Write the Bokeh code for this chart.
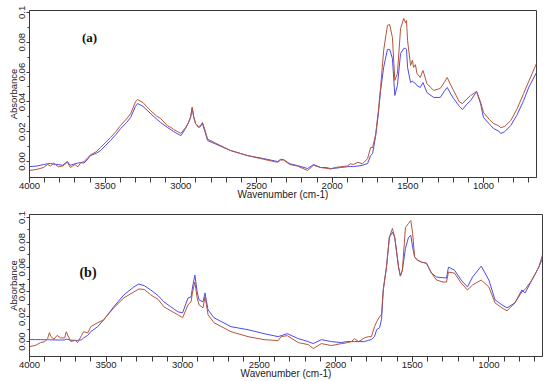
from bokeh.plotting import figure
from bokeh.layouts import column
from bokeh.models import Range1d, SingleIntervalTicker, FixedTicker, Label
from bokeh.embed import file_html
from bokeh.resources import INLINE

# ---------------- data (a) ----------------
wn_a = [4000, 3950, 3907, 3880, 3861, 3840, 3810, 3780, 3750, 3730, 3700, 3680, 3663, 3640, 3620,
        3597, 3560, 3531, 3500, 3465, 3430, 3398, 3360, 3332, 3300, 3286, 3250, 3200, 3160, 3134,
        3088, 3060, 3048, 3020, 3000, 2969, 2949, 2935, 2925, 2915, 2903, 2883, 2870, 2857, 2845,
        2823, 2780, 2672, 2560, 2453, 2361, 2341, 2321, 2280, 2229, 2163, 2123, 2077, 2040, 2011,
        1980, 1945, 1900, 1880, 1859, 1830, 1800, 1766, 1746, 1733, 1713, 1695, 1680, 1660, 1635,
        1620, 1602, 1586, 1569, 1548, 1527, 1515, 1509, 1502, 1482, 1470, 1462, 1450, 1440, 1418,
        1400, 1374, 1330, 1286, 1260, 1240, 1220, 1198, 1160, 1139, 1110, 1085, 1046, 1020, 1000,
        960, 933, 900, 887, 860, 820, 780, 735, 700, 650]
red_a = [-0.0060, -0.0052, -0.0040, -0.0020, -0.0030, -0.0010, -0.0035, -0.0030, -0.0005, -0.0040,
         -0.0020, -0.0035, -0.0010, 0.0000, 0.0020, 0.0045, 0.0065, 0.0094, 0.0125, 0.0161,
         0.0200, 0.0242, 0.0285, 0.0320, 0.0400, 0.0416, 0.0395, 0.0342, 0.0305, 0.0289,
         0.0240, 0.0225, 0.0215, 0.0200, 0.0188, 0.0228, 0.0262, 0.0300, 0.0362, 0.0300,
         0.0255, 0.0235, 0.0240, 0.0262, 0.0225, 0.0150, 0.0128, 0.0074, 0.0040, 0.0015,
         -0.0005, 0.0010, 0.0010, -0.0020, -0.0030, -0.0060, -0.0025, -0.0040, -0.0045, -0.0050,
         -0.0040, -0.0035, -0.0030, -0.0015, -0.0020, -0.0005, -0.0015, 0.0020, 0.0094, 0.0094,
         0.0180, 0.0340, 0.0497, 0.0745, 0.0913, 0.0919, 0.0832, 0.0544, 0.0591, 0.0893,
         0.0960, 0.0930, 0.0946, 0.0812, 0.0644, 0.0680, 0.0631, 0.0650, 0.0591, 0.0564,
         0.0611, 0.0523, 0.0477, 0.0490, 0.0530, 0.0564, 0.0520, 0.0477, 0.0400, 0.0389,
         0.0420, 0.0443, 0.0470, 0.0400, 0.0329, 0.0280, 0.0255, 0.0240, 0.0228, 0.0235,
         0.0275, 0.0350, 0.0456, 0.0540, 0.0658]
blue_a = [-0.0034, -0.0030, -0.0020, -0.0015, -0.0013, -0.0018, -0.0020, -0.0025, 0.0000, -0.0025,
          -0.0015, -0.0010, -0.0007, -0.0010, 0.0010, 0.0040, 0.0055, 0.0074, 0.0105, 0.0141,
          0.0180, 0.0221, 0.0260, 0.0295, 0.0370, 0.0389, 0.0370, 0.0322, 0.0285, 0.0262,
          0.0228, 0.0210, 0.0201, 0.0185, 0.0174, 0.0221, 0.0262, 0.0300, 0.0362, 0.0300,
          0.0255, 0.0228, 0.0235, 0.0255, 0.0215, 0.0141, 0.0122, 0.0074, 0.0040, 0.0020,
          0.0000, 0.0015, 0.0013, -0.0015, -0.0027, -0.0047, -0.0020, -0.0040, -0.0040, -0.0047,
          -0.0045, -0.0040, -0.0035, -0.0033, -0.0034, -0.0030, -0.0025, -0.0013, 0.0040, 0.0054,
          0.0170, 0.0320, 0.0477, 0.0631, 0.0752, 0.0752, 0.0691, 0.0443, 0.0510, 0.0725,
          0.0758, 0.0760, 0.0752, 0.0631, 0.0530, 0.0540, 0.0530, 0.0525, 0.0510, 0.0497,
          0.0530, 0.0463, 0.0430, 0.0430, 0.0470, 0.0497, 0.0460, 0.0423, 0.0370, 0.0349,
          0.0385, 0.0409, 0.0470, 0.0390, 0.0295, 0.0250, 0.0221, 0.0205, 0.0188, 0.0200,
          0.0242, 0.0310, 0.0409, 0.0500, 0.0597]

# ---------------- data (b) ----------------
wn_b = [4000, 3960, 3928, 3900, 3882, 3870, 3860, 3840, 3820, 3797, 3770, 3760, 3731, 3700, 3686,
        3660, 3646, 3620, 3600, 3555, 3515, 3450, 3384, 3319, 3286, 3250, 3208, 3160, 3122, 3077,
        3031, 3000, 2965, 2945, 2935, 2920, 2905, 2893, 2867, 2854, 2845, 2834, 2795, 2684, 2573,
        2468, 2376, 2357, 2317, 2245, 2180, 2147, 2094, 2029, 1963, 1930, 1898, 1878, 1850, 1813,
        1787, 1767, 1747, 1733, 1714, 1701, 1690, 1669, 1650, 1630, 1615, 1590, 1578, 1565, 1545,
        1525, 1510, 1498, 1485, 1465, 1440, 1408, 1375, 1342, 1300, 1277, 1264, 1225, 1181, 1140,
        1107, 1050, 1000, 960, 915, 882, 830, 785, 764, 719, 674, 650]
red_b = [-0.0040, -0.0030, -0.0008, 0.0000, 0.0024, 0.0072, 0.0040, 0.0020, 0.0050, 0.0030,
         0.0030, 0.0080, 0.0000, 0.0010, -0.0008, 0.0050, 0.0080, 0.0070, 0.0120, 0.0152,
         0.0176, 0.0272, 0.0352, 0.0400, 0.0424, 0.0420, 0.0376, 0.0340, 0.0280, 0.0248,
         0.0216, 0.0192, 0.0296, 0.0320, 0.0400, 0.0480, 0.0350, 0.0296, 0.0272, 0.0360,
         0.0300, 0.0216, 0.0152, 0.0080, 0.0040, 0.0016, 0.0008, 0.0040, 0.0048, -0.0008,
         -0.0024, -0.0056, -0.0016, -0.0032, -0.0016, -0.0010, 0.0000, 0.0024, 0.0000, 0.0030,
         0.0040, 0.0040, 0.0120, 0.0160, 0.0200, 0.0220, 0.0416, 0.0600, 0.0840, 0.0912,
         0.0840, 0.0600, 0.0528, 0.0576, 0.0920, 0.0952, 0.0976, 0.0872, 0.0680, 0.0656,
         0.0640, 0.0632, 0.0552, 0.0496, 0.0480, 0.0480, 0.0560, 0.0552, 0.0472, 0.0416,
         0.0456, 0.0496, 0.0440, 0.0312, 0.0272, 0.0248, 0.0312, 0.0400, 0.0420, 0.0496,
         0.0600, 0.0700]
blue_b = [0.0016, 0.0016, 0.0016, 0.0015, 0.0015, 0.0015, 0.0014, 0.0014, 0.0013, 0.0013,
          0.0013, 0.0020, 0.0012, 0.0010, 0.0010, 0.0015, 0.0030, 0.0050, 0.0080, 0.0120,
          0.0176, 0.0280, 0.0376, 0.0440, 0.0464, 0.0450, 0.0416, 0.0370, 0.0320, 0.0280,
          0.0240, 0.0232, 0.0352, 0.0360, 0.0440, 0.0536, 0.0400, 0.0336, 0.0320, 0.0392,
          0.0330, 0.0256, 0.0192, 0.0120, 0.0096, 0.0064, 0.0040, 0.0048, 0.0064, 0.0024,
          0.0000, -0.0016, 0.0016, 0.0000, -0.0008, 0.0000, 0.0000, 0.0000, 0.0000, 0.0000,
          0.0010, 0.0016, 0.0040, 0.0096, 0.0112, 0.0180, 0.0416, 0.0600, 0.0840, 0.0880,
          0.0840, 0.0600, 0.0528, 0.0576, 0.0752, 0.0840, 0.0856, 0.0760, 0.0680, 0.0656,
          0.0640, 0.0632, 0.0552, 0.0520, 0.0515, 0.0512, 0.0600, 0.0576, 0.0496, 0.0440,
          0.0520, 0.0608, 0.0496, 0.0336, 0.0296, 0.0272, 0.0312, 0.0416, 0.0392, 0.0496,
          0.0600, 0.0670]

y_ticks = [0.0, 0.02, 0.04, 0.06, 0.08, 0.1]
y_tick_labels = ["0.00", "0.02", "0.04", "0.06", "0.08", "0.1"]
x_label = "Wavenumber (cm-1)"
y_label = "Absorbance"
panel_labels = ["(a)", "(b)"]

RED = "#b4553a"
BLUE = "#4b4bee"
FONT = "Liberation Sans"


def make_panel(wn, red, blue, width, height, ymin, ymax, border_top, border_bottom, label, lx, ly, lsize):
    p = figure(width=width, height=height, output_backend="svg", toolbar_location=None,
               x_range=Range1d(4000, 650), y_range=Range1d(ymin, ymax),
               min_border_left=29, min_border_right=8,
               min_border_top=border_top, min_border_bottom=border_bottom)
    p.grid.visible = False
    p.outline_line_color = "#3a3a3a"
    p.outline_line_width = 1
    p.background_fill_color = "white"
    p.border_fill_color = "white"

    p.line(wn, blue, line_color=BLUE, line_width=1)
    p.line(wn, red, line_color=RED, line_width=1)

    xa = p.xaxis[0]
    xa.ticker = SingleIntervalTicker(interval=500, num_minor_ticks=5)
    xa.axis_label = x_label
    for ax in (xa, p.yaxis[0]):
        ax.axis_line_color = "#3a3a3a"
        ax.major_tick_line_color = "#3a3a3a"
        ax.minor_tick_line_color = "#3a3a3a"
        ax.major_tick_in = 0
        ax.minor_tick_in = 0
        ax.major_label_text_font = FONT
        ax.major_label_text_color = "#222222"
        ax.axis_label_text_font = FONT
        ax.axis_label_text_font_style = "normal"
        ax.axis_label_text_color = "#222222"
    xa.major_tick_out = 5
    xa.minor_tick_out = 5
    xa.major_label_standoff = 0
    xa.axis_label_standoff = -3
    xa.major_label_text_font_size = "9.5px"
    xa.axis_label_text_font_size = "10px"

    ya = p.yaxis[0]
    ya.ticker = FixedTicker(ticks=y_ticks, minor_ticks=[0.01, 0.03, 0.05, 0.07, 0.09])
    ya.major_label_overrides = {t: s for t, s in zip(y_ticks, y_tick_labels)}
    ya.major_label_orientation = "vertical"
    ya.major_label_text_font_size = "9.5px"
    ya.major_label_standoff = 1
    ya.axis_label = y_label
    ya.axis_label_text_font_size = "9.5px"
    ya.axis_label_standoff = -2
    ya.major_tick_out = 3
    ya.minor_tick_out = 2

    p.add_layout(Label(x=lx, y=ly, text=label, text_font="Liberation Serif",
                       text_font_style="bold", text_font_size=lsize, text_color="#111111",
                       text_align="center", text_baseline="middle"))
    return p


# top panel: frame 10..177 ; bottom panel: frame 214..357
p1 = make_panel(wn_a, red_a, blue_a, 544, 206, -0.0107, 0.1013, 10, 29,
                panel_labels[0], 3603, 0.0829, "13px")
p2 = make_panel(wn_b, red_b, blue_b, 550, 175, -0.012, 0.1024, 8, 24,
                panel_labels[1], 3618, 0.0556, "14px")

layout = column(p1, p2)
open("out.html", "w").write(file_html(layout, INLINE))
